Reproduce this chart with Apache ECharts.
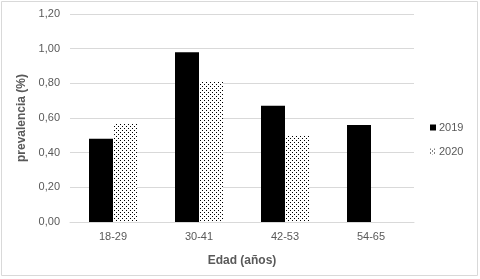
<!DOCTYPE html>
<html>
<head>
<meta charset="utf-8">
<script src="https://cdn.jsdelivr.net/npm/echarts@6/dist/echarts.min.js"></script>
<style>
html,body{margin:0;padding:0;background:#fff;}
#c{width:480px;height:279px;}
</style>
</head>
<body>
<div id="c"></div>
<script>
const categories = ['18-29', '30-41', '42-53', '54-65'];
const seriesNames = ['2019', '2020'];
const values2019 = [0.48, 0.98, 0.67, 0.56];
const values2020 = [0.57, 0.81, 0.50, null];
const yTicks = [0, 0.2, 0.4, 0.6, 0.8, 1.0, 1.2];

const cv = document.createElement('canvas');
cv.width = 4; cv.height = 4;
const g = cv.getContext('2d');
g.fillStyle = '#ffffff'; g.fillRect(0, 0, 4, 4);
g.fillStyle = '#000000';
g.fillRect(0, 0, 1, 1);
g.fillRect(2, 2, 1, 1);
const dotPattern = { image: cv, repeat: 'repeat' };

const txt = '#595959';
const font = 'Liberation Sans, Arial, sans-serif';

const chart = echarts.init(document.getElementById('c'), null, { renderer: 'canvas' });
chart.setOption({
  animation: false,
  backgroundColor: '#fff',
  textStyle: { fontFamily: font },
  graphic: [{
    type: 'rect', shape: { x: 1.5, y: 1.5, width: 476, height: 274 },
    style: { fill: 'none', stroke: '#d9d9d9', lineWidth: 1 }, silent: true
  }],
  grid: { left: 70, right: 66, top: 14, bottom: 57 },
  legend: {
    orient: 'vertical', left: 425, top: 117, itemWidth: 6, itemHeight: 6, itemGap: 13,
    textStyle: { color: txt, fontSize: 11, fontFamily: font, padding: [0, 0, 0, -2] },
    data: [{ name: seriesNames[0], icon: 'rect' }, { name: seriesNames[1], icon: 'rect' }]
  },
  xAxis: {
    type: 'category', data: categories,
    name: 'Edad (años)', nameLocation: 'middle', nameGap: 33,
    nameTextStyle: { color: txt, fontSize: 12, fontWeight: 'bold', fontFamily: font },
    axisLine: { lineStyle: { color: '#d9d9d9' } },
    axisTick: { show: false },
    axisLabel: { color: txt, fontSize: 11, margin: 9, fontFamily: font }
  },
  yAxis: {
    type: 'value', min: 0, max: 1.2, interval: 0.2,
    name: 'prevalencia (%)', nameLocation: 'middle', nameGap: 42,
    nameTextStyle: { color: txt, fontSize: 12, fontWeight: 'bold', fontFamily: font },
    axisLine: { show: false }, axisTick: { show: false },
    axisLabel: { color: txt, fontSize: 11, margin: 10, fontFamily: font,
      formatter: v => v.toFixed(2).replace('.', ',') },
    splitLine: { lineStyle: { color: '#d9d9d9' } }
  },
  series: [
    { name: seriesNames[0], type: 'bar', data: values2019, barWidth: 24, barGap: '0%',
      itemStyle: { color: '#000' } },
    { name: seriesNames[1], type: 'bar', data: values2020, barWidth: 24, barGap: '0%',
      itemStyle: { color: dotPattern } }
  ]
});
</script>
</body>
</html>
